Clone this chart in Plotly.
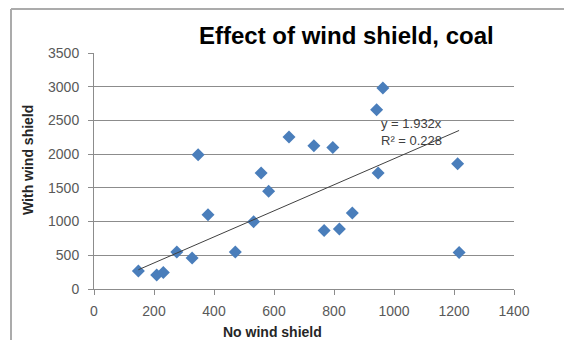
import plotly.graph_objects as go

no_shield = [963, 942, 347, 557, 582, 650, 733, 796, 947, 1212, 380, 532, 861,
             767, 818, 276, 327, 471, 1217, 148, 209, 231]
with_shield = [2980, 2660, 1990, 1720, 1448, 2254, 2125, 2100, 1720, 1858, 1102,
               998, 1127, 869, 890, 548, 459, 548, 543, 267, 207, 246]
slope = 1.932
r2 = 0.228
x_ticks = [0, 200, 400, 600, 800, 1000, 1200, 1400]
y_ticks = [0, 500, 1000, 1500, 2000, 2500, 3000, 3500]

W, H = 564, 340
ML, MR, MT, MB = 94, 50, 53, 51
pw, ph = W - ML - MR, H - MT - MB

def px(xp):
    return (xp - ML) / pw

def py(yp):
    return (H - MB - yp) / ph

fig = go.Figure()
fig.add_trace(go.Scatter(
    x=no_shield, y=with_shield, mode="markers",
    marker=dict(symbol="diamond", size=10, color="#4A7EBB"),
    showlegend=False, hoverinfo="x+y"))

xmin, xmax = min(no_shield), max(no_shield)
fig.add_trace(go.Scatter(
    x=[xmin, xmax], y=[slope * xmin, slope * xmax], mode="lines",
    line=dict(color="#404040", width=1), showlegend=False, hoverinfo="skip"))

font = "Liberation Sans, Arial, sans-serif"
fig.update_layout(
    width=W, height=H, margin=dict(l=ML, r=MR, t=MT, b=MB),
    paper_bgcolor="white", plot_bgcolor="white",
    font=dict(family=font),
    xaxis=dict(range=[0, 1400], tickvals=x_ticks, showgrid=False,
               showline=True, linecolor="#8C8C8C", linewidth=1,
               ticks="outside", ticklen=5, tickcolor="#8C8C8C",
               tickfont=dict(size=14, color="#595959"), zeroline=False,
               ticklabelstandoff=4),
    yaxis=dict(range=[0, 3500], tickvals=y_ticks, showgrid=True,
               gridcolor="#8C8C8C", gridwidth=1,
               showline=True, linecolor="#8C8C8C", linewidth=1,
               ticks="outside", ticklen=5, tickcolor="#8C8C8C",
               tickfont=dict(size=14, color="#595959"), zeroline=False,
               ticklabelstandoff=6),
)

fig.add_annotation(text="<b>Effect of wind shield, coal</b>", xref="paper", yref="paper",
                   x=px(346), y=py(36), xanchor="center", yanchor="middle",
                   showarrow=False, font=dict(size=24, color="#000000"))
fig.add_annotation(text="<b>No wind shield</b>", xref="paper", yref="paper",
                   x=px(272), y=py(332), xanchor="center", yanchor="middle",
                   showarrow=False, font=dict(size=14, color="#262626"))
fig.add_annotation(text="<b>With wind shield</b>", xref="paper", yref="paper",
                   x=px(28), y=py(160), xanchor="center", yanchor="middle",
                   textangle=-90, showarrow=False, font=dict(size=14, color="#262626"))
fig.add_annotation(text=f"y = {slope}x<br>R² = {r2}", xref="paper", yref="paper",
                   x=px(379), y=py(132), xanchor="left", yanchor="middle", align="left",
                   showarrow=False, font=dict(size=13, color="#404040"))

# chart border (top and left visible edges)
fig.add_shape(type="line", xref="paper", yref="paper", x0=px(11), x1=px(W + 5),
              y0=py(9), y1=py(9), line=dict(color="#ABABAB", width=2))
fig.add_shape(type="line", xref="paper", yref="paper", x0=px(11), x1=px(11),
              y0=py(9), y1=py(H + 5), line=dict(color="#ABABAB", width=2))

fig.write_html("out.html")
